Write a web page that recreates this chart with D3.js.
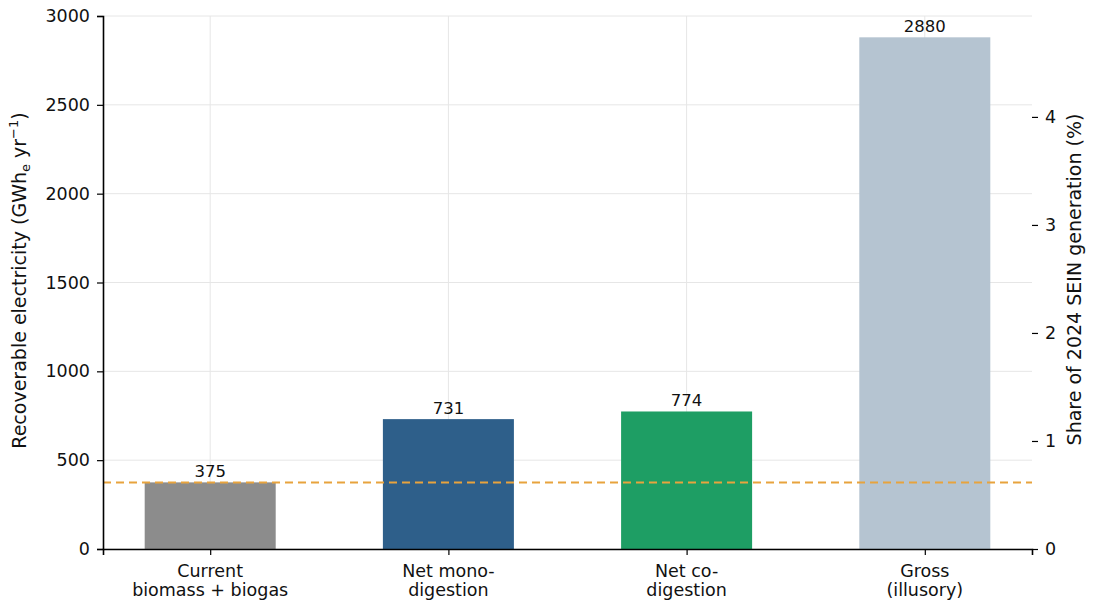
<!DOCTYPE html>
<html>
<head>
<meta charset="utf-8">
<script src="https://cdn.jsdelivr.net/npm/d3@7"></script>
<style>
  body { margin: 0; background: #fff; }
  svg { font-family: "DejaVu Sans", sans-serif; }
</style>
</head>
<body>
<svg id="chart" width="1093" height="608"></svg>
<script>
// chart data
const categories = ['Current\nbiomass + biogas', 'Net mono-\ndigestion', 'Net co-\ndigestion', 'Gross\n(illusory)'];
const values = [375, 731, 774, 2880];
const barColors = ['#8c8c8c', '#2e5f8a', '#1e9e64', '#b5c4d1'];
const leftTicks = [0, 500, 1000, 1500, 2000, 2500, 3000];
const rightTicks = [0, 1, 2, 3, 4];
const currentLevel = 375;
const seinGeneration = 60800; // GWh, 2024 total (100 %)

const margin = {top: 16, right: 61, bottom: 59, left: 103};
const width = 1093 - margin.left - margin.right;
const height = 608 - margin.top - margin.bottom;

const svg = d3.select('#chart');
const g = svg.append('g').attr('transform', `translate(${margin.left},${margin.top})`);

const x = d3.scaleLinear().domain([-0.45, 3.45]).range([0, width]);
const y = d3.scaleLinear().domain([0, 3000]).range([height, 0]);
const yRight = d3.scaleLinear().domain([0, 3000 / seinGeneration * 100]).range([height, 0]);
const barWidth = 0.55;

// gridlines
g.append('g').selectAll('line')
  .data(leftTicks)
  .enter().append('line')
  .attr('x1', 0).attr('x2', width)
  .attr('y1', d => y(d)).attr('y2', d => y(d))
  .attr('stroke', '#e6e6e6').attr('stroke-width', 1);

g.append('g').selectAll('line')
  .data(categories)
  .enter().append('line')
  .attr('x1', (d, i) => x(i)).attr('x2', (d, i) => x(i))
  .attr('y1', 0).attr('y2', height)
  .attr('stroke', '#e6e6e6').attr('stroke-width', 1);

// bars
g.append('g').selectAll('rect')
  .data(values)
  .enter().append('rect')
  .attr('x', (d, i) => x(i - barWidth / 2))
  .attr('width', x(barWidth) - x(0))
  .attr('y', d => y(d))
  .attr('height', d => height - y(d))
  .attr('fill', (d, i) => barColors[i]);

// value labels
g.append('g').selectAll('text')
  .data(values)
  .enter().append('text')
  .attr('x', (d, i) => x(i))
  .attr('y', d => y(d) - 5)
  .attr('text-anchor', 'middle')
  .attr('font-size', 16.5)
  .attr('fill', '#111')
  .text(d => d);

// current level reference line
g.append('line')
  .attr('x1', 0).attr('x2', width)
  .attr('y1', y(currentLevel)).attr('y2', y(currentLevel))
  .attr('stroke', '#e8a33d').attr('stroke-width', 2)
  .attr('stroke-dasharray', '8,5');

// left axis
const yAxis = g.append('g')
  .call(d3.axisLeft(y).tickValues(leftTicks).tickFormat(d3.format('d')).tickSize(6).tickPadding(7));
yAxis.select('.domain').attr('stroke', '#000').attr('stroke-width', 1.6);
yAxis.selectAll('.tick line').attr('stroke', '#000').attr('stroke-width', 1.2);
yAxis.selectAll('.tick text').attr('font-size', 17.5).attr('fill', '#111')
  .style('font-family', '"DejaVu Sans", sans-serif');

// right axis
const yAxisR = g.append('g')
  .attr('transform', `translate(${width},0)`)
  .call(d3.axisRight(yRight).tickValues(rightTicks).tickFormat(d3.format('d')).tickSize(6).tickPadding(7));
yAxisR.select('.domain').remove();
yAxisR.selectAll('.tick line').attr('stroke', '#000').attr('stroke-width', 1.2);
yAxisR.selectAll('.tick text').attr('font-size', 17.5).attr('fill', '#111')
  .style('font-family', '"DejaVu Sans", sans-serif');

// bottom axis
const xAxis = g.append('g')
  .attr('transform', `translate(0,${height})`)
  .call(d3.axisBottom(x).tickValues(d3.range(categories.length)).tickSize(6).tickFormat(''));
xAxis.select('.domain').attr('stroke', '#000').attr('stroke-width', 1.6);
xAxis.selectAll('.tick line').attr('stroke', '#000').attr('stroke-width', 1.2);

const catLabels = g.append('g').selectAll('text')
  .data(categories)
  .enter().append('text')
  .attr('x', (d, i) => x(i))
  .attr('y', height + 28)
  .attr('text-anchor', 'middle')
  .attr('font-size', 17.5)
  .attr('fill', '#111');
catLabels.each(function(d) {
  const t = d3.select(this);
  d.split('\n').forEach((line, k) => {
    t.append('tspan').attr('x', t.attr('x')).attr('dy', k === 0 ? 0 : 19).text(line);
  });
});

// axis titles
const leftTitle = svg.append('text')
  .attr('transform', `translate(26,${margin.top + height / 2 - 2}) rotate(-90)`)
  .attr('text-anchor', 'middle')
  .attr('font-size', 19)
  .attr('fill', '#111');
leftTitle.append('tspan').text('Recoverable electricity (GWh');
leftTitle.append('tspan').attr('font-size', 13).attr('dy', 4).text('e');
leftTitle.append('tspan').attr('dy', -4).text(' yr');
leftTitle.append('tspan').attr('font-size', 13).attr('dy', -8).text('−1');
leftTitle.append('tspan').attr('dy', 8).text(')');

svg.append('text')
  .attr('transform', `translate(1081,${margin.top + height / 2 - 3}) rotate(-90)`)
  .attr('text-anchor', 'middle')
  .attr('font-size', 19)
  .attr('fill', '#111')
  .text('Share of 2024 SEIN generation (%)');
</script>
</body>
</html>
